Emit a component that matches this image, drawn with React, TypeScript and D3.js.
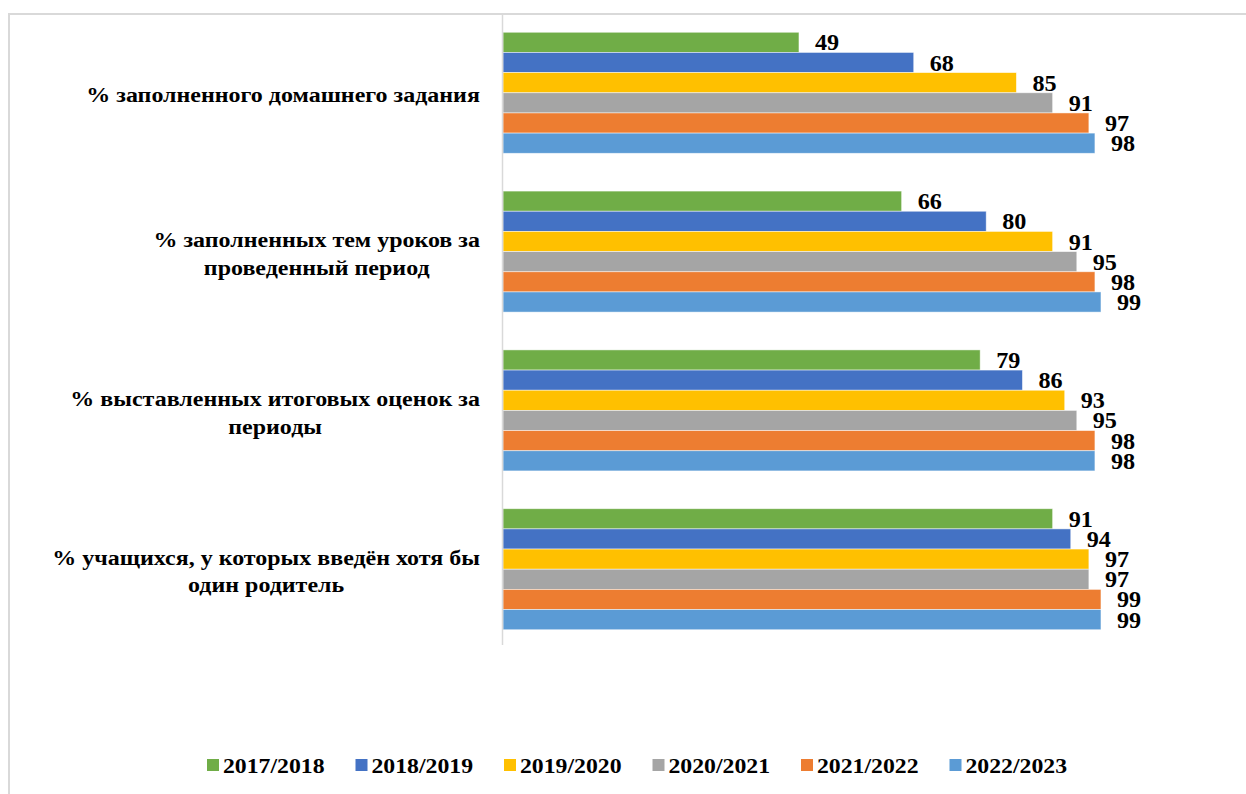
import React, { useEffect, useRef } from "react";
import * as d3 from "d3";

const categories: string[][] = [
  ["% заполненного домашнего задания"],
  ["% заполненных тем уроков за", "проведенный период"],
  ["% выставленных итоговых оценок за", "периоды"],
  ["% учащихся, у которых введён хотя бы", "один родитель"],
];
const seriesNames = ["2017/2018", "2018/2019", "2019/2020", "2020/2021", "2021/2022", "2022/2023"];
const seriesColors = ["#70ad47", "#4472c4", "#ffc000", "#a5a5a5", "#ed7d31", "#5b9bd5"];
const values2017 = [49, 66, 79, 91];
const values2018 = [68, 80, 86, 94];
const values2019 = [85, 91, 93, 97];
const values2020 = [91, 95, 95, 97];
const values2021 = [97, 98, 98, 99];
const values2022 = [98, 99, 98, 99];
const seriesValues = [values2017, values2018, values2019, values2020, values2021, values2022];

const W = 1246;
const H = 794;
const FONT = "'Liberation Serif', 'Times New Roman', serif";
const SX = 1.08;

export default function App() {
  const ref = useRef<SVGSVGElement | null>(null);

  useEffect(() => {
    const svg = d3.select(ref.current);
    svg.selectAll("*").remove();

    // frame
    svg.append("rect")
      .attr("x", 9).attr("y", 14).attr("width", 1400).attr("height", 1000)
      .attr("fill", "#fff").attr("stroke", "#d9d9d9").attr("stroke-width", 2);

    const catIdx = categories.map((_, i) => String(i));
    const y0 = d3.scaleBand<string>().domain(catIdx).range([14, 648]).paddingInner(0.238).paddingOuter(0.115);
    const y1 = d3.scaleBand<string>().domain(seriesNames).range([0, y0.bandwidth()]);
    const x = d3.scaleLinear().domain([0, 100]).range([503, 1107]);

    // bars
    categories.forEach((_, ci) => {
      const g = svg.append("g").attr("transform", `translate(0,${y0(String(ci))})`);
      seriesNames.forEach((s, si) => {
        const v = seriesValues[si][ci];
        g.append("rect")
          .attr("x", x(0)).attr("y", y1(s)!)
          .attr("width", x(v) - x(0)).attr("height", y1.bandwidth())
          .attr("fill", seriesColors[si])
          .attr("stroke", "#ffffff").attr("stroke-opacity", 0.6).attr("stroke-width", 0.8);
        g.append("text")
          .attr("transform", `translate(${x(v) + 16},${y1(s)! + y1.bandwidth() / 2 + 8}) scale(1.05,1)`)
          .attr("font-family", FONT).attr("font-weight", "bold").attr("font-size", 23)
          .attr("fill", "#000").text(String(v));
      });
    });

    // axis line
    svg.append("line")
      .attr("x1", x(0) - 0.5).attr("x2", x(0) - 0.5).attr("y1", 14).attr("y2", 645)
      .attr("stroke", "#d9d9d9").attr("stroke-width", 1.5);

    // category labels
    const right = 480;
    const lineH = 27.5;
    const CSX = 1.09;
    categories.forEach((lines, ci) => {
      const cy = y0(String(ci))! + y0.bandwidth() / 2 + 2;
      const g = svg.append("g");
      const texts = lines.map((ln) =>
        g.append("text")
          .attr("font-family", FONT).attr("font-weight", "bold").attr("font-size", 22)
          .attr("fill", "#000").attr("text-anchor", "middle").text(ln)
      );
      const widths = texts.map((t) => (t.node() as SVGTextElement).getComputedTextLength() * CSX);
      const maxW = Math.max(...widths);
      const cx = right - maxW / 2;
      const top = cy - ((lines.length - 1) * lineH) / 2;
      texts.forEach((t, li) => {
        t.attr("transform", `translate(${cx},${top + li * lineH + 7.5}) scale(${CSX},1)`);
      });
    });

    // legend
    const lx = d3.scaleBand<string>().domain(seriesNames).range([207, 207 + 6 * 148.5]);
    seriesNames.forEach((s, si) => {
      svg.append("rect")
        .attr("x", lx(s)!).attr("y", 759).attr("width", 12).attr("height", 12)
        .attr("fill", seriesColors[si]);
      svg.append("text")
        .attr("transform", `translate(${lx(s)! + 16},773) scale(${SX},1)`)
        .attr("font-family", FONT).attr("font-weight", "bold").attr("font-size", 22)
        .attr("fill", "#000").text(s);
    });
  }, []);

  return (
    <svg ref={ref} width={W} height={H} style={{ position: "absolute", left: 0, top: 0, background: "#fff" }} />
  );
}
